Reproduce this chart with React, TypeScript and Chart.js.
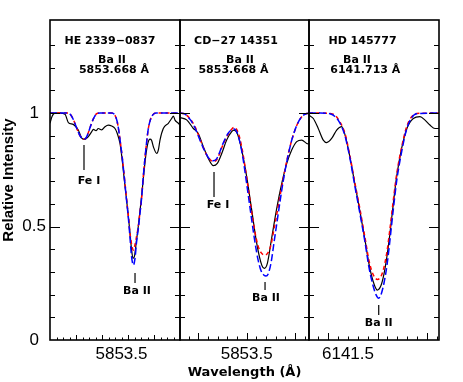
import React, { useEffect, useRef } from "react";
import { Chart, registerables } from "chart.js";
Chart.register(...registerables);

type P = [number, number];

// ---------------- data ----------------
const starNames = ["HE 2339\u22120837", "CD\u221227 14351", "HD 145777"];
const lineIons = ["Ba II", "Ba II", "Ba II"];
const lineWaves = ["5853.668 \u00c5", "5853.668 \u00c5", "6141.713 \u00c5"];

const xMins = [5852.4, 5852.81, 6141.104];
const xMaxs = [5854.4, 5854.145, 6142.424];
const xTickLabels = [5853.5, 5853.5, 6141.5];
const xMajorStarts = [5852.4, 5853.0, 6141.3];
const xMajorSteps = [0.4, 0.5, 0.5];
const xMinorSteps = [0.1, 0.1, 0.1];

const yMin = 0;
const yMax = 1.41;
const yTickLabels = [0, 0.5, 1];

const obs1: P[] = [[5852.400,0.955],[5852.431,0.985],[5852.477,1.0],[5852.554,1.0],[5852.631,0.995],[5852.682,0.958],[5852.758,0.95],[5852.835,0.925],[5852.888,0.89],[5852.938,0.884],[5852.989,0.896],[5853.042,0.918],[5853.066,0.928],[5853.108,0.922],[5853.143,0.932],[5853.195,0.926],[5853.246,0.94],[5853.297,0.947],[5853.349,0.943],[5853.400,0.932],[5853.435,0.91],[5853.477,0.866],[5853.508,0.8],[5853.538,0.72],[5853.569,0.64],[5853.600,0.56],[5853.631,0.47],[5853.654,0.4],[5853.677,0.36],[5853.700,0.37],[5853.731,0.44],[5853.758,0.5],[5853.785,0.57],[5853.815,0.65],[5853.846,0.74],[5853.877,0.82],[5853.908,0.87],[5853.938,0.885],[5853.962,0.88],[5853.992,0.85],[5854.042,0.822],[5854.069,0.84],[5854.092,0.881],[5854.143,0.932],[5854.220,0.955],[5854.272,0.976],[5854.298,0.987],[5854.323,0.969],[5854.374,0.955],[5854.400,0.947]];
const red1: P[] = [[5852.400,1.0],[5852.677,1.0],[5852.723,0.99],[5852.769,0.965],[5852.815,0.93],[5852.862,0.9],[5852.912,0.885],[5852.954,0.89],[5852.985,0.91],[5853.015,0.935],[5853.046,0.96],[5853.077,0.98],[5853.118,0.997],[5853.169,1.0],[5853.354,1.0],[5853.400,0.99],[5853.431,0.965],[5853.454,0.93],[5853.492,0.85],[5853.528,0.763],[5853.554,0.69],[5853.580,0.617],[5853.608,0.54],[5853.631,0.47],[5853.654,0.425],[5853.682,0.396],[5853.708,0.42],[5853.731,0.455],[5853.758,0.5],[5853.785,0.565],[5853.811,0.63],[5853.831,0.705],[5853.854,0.78],[5853.882,0.86],[5853.912,0.93],[5853.946,0.972],[5853.985,0.993],[5854.031,1.0],[5854.400,1.0]];
const blue1: P[] = [[5852.400,1.0],[5852.677,1.0],[5852.723,0.99],[5852.769,0.965],[5852.815,0.93],[5852.862,0.9],[5852.912,0.885],[5852.954,0.89],[5852.985,0.91],[5853.015,0.935],[5853.046,0.96],[5853.077,0.98],[5853.118,0.997],[5853.169,1.0],[5853.354,1.0],[5853.400,0.99],[5853.431,0.965],[5853.454,0.93],[5853.492,0.85],[5853.528,0.76],[5853.554,0.685],[5853.580,0.61],[5853.608,0.53],[5853.631,0.45],[5853.654,0.37],[5853.682,0.33],[5853.708,0.36],[5853.731,0.43],[5853.758,0.49],[5853.785,0.56],[5853.811,0.63],[5853.831,0.705],[5853.854,0.78],[5853.882,0.86],[5853.912,0.93],[5853.946,0.972],[5853.985,0.993],[5854.031,1.0],[5854.400,1.0]];

const obs2: P[] = [[5852.810,0.98],[5852.879,0.97],[5852.948,0.932],[5852.999,0.91],[5853.051,0.852],[5853.103,0.8],[5853.155,0.768],[5853.196,0.778],[5853.242,0.822],[5853.293,0.881],[5853.345,0.918],[5853.369,0.925],[5853.403,0.91],[5853.449,0.837],[5853.500,0.72],[5853.552,0.573],[5853.604,0.426],[5853.656,0.33],[5853.683,0.316],[5853.714,0.338],[5853.759,0.45],[5853.811,0.58],[5853.863,0.69],[5853.915,0.778],[5853.966,0.837],[5854.018,0.874],[5854.070,0.881],[5854.122,0.866],[5854.145,0.864]];
const red2: P[] = [[5852.810,1.0],[5852.862,0.995],[5852.914,0.975],[5852.965,0.94],[5853.017,0.885],[5853.069,0.83],[5853.110,0.8],[5853.152,0.787],[5853.183,0.79],[5853.214,0.815],[5853.245,0.85],[5853.276,0.88],[5853.307,0.905],[5853.338,0.925],[5853.370,0.937],[5853.400,0.925],[5853.431,0.885],[5853.462,0.82],[5853.493,0.735],[5853.524,0.645],[5853.555,0.555],[5853.586,0.475],[5853.617,0.415],[5853.649,0.385],[5853.685,0.374],[5853.721,0.385],[5853.752,0.42],[5853.783,0.49],[5853.814,0.56],[5853.845,0.635],[5853.876,0.705],[5853.915,0.79],[5853.966,0.88],[5854.018,0.945],[5854.070,0.984],[5854.122,0.998],[5854.145,1.0]];
const blue2: P[] = [[5852.810,1.0],[5852.862,0.995],[5852.914,0.972],[5852.965,0.935],[5853.017,0.88],[5853.069,0.83],[5853.110,0.8],[5853.152,0.79],[5853.183,0.795],[5853.214,0.82],[5853.245,0.855],[5853.276,0.885],[5853.307,0.91],[5853.338,0.925],[5853.370,0.93],[5853.400,0.915],[5853.431,0.87],[5853.462,0.8],[5853.493,0.71],[5853.524,0.615],[5853.555,0.52],[5853.586,0.43],[5853.617,0.355],[5853.649,0.305],[5853.680,0.285],[5853.700,0.282],[5853.721,0.29],[5853.752,0.34],[5853.783,0.43],[5853.814,0.52],[5853.845,0.61],[5853.876,0.695],[5853.915,0.785],[5853.966,0.88],[5854.018,0.945],[5854.070,0.984],[5854.122,0.998],[5854.145,1.0]];

const obs3: P[] = [[6141.104,0.99],[6141.148,0.976],[6141.198,0.932],[6141.249,0.881],[6141.284,0.87],[6141.334,0.888],[6141.385,0.925],[6141.436,0.94],[6141.469,0.905],[6141.520,0.805],[6141.571,0.685],[6141.622,0.565],[6141.673,0.44],[6141.713,0.335],[6141.754,0.26],[6141.797,0.22],[6141.835,0.24],[6141.865,0.29],[6141.896,0.37],[6141.926,0.47],[6141.960,0.6],[6141.994,0.72],[6142.045,0.845],[6142.096,0.93],[6142.163,0.976],[6142.231,0.984],[6142.282,0.969],[6142.332,0.947],[6142.383,0.932],[6142.424,0.932]];
const red3: P[] = [[6141.104,1.0],[6141.216,1.0],[6141.317,0.998],[6141.368,0.99],[6141.419,0.96],[6141.469,0.91],[6141.520,0.81],[6141.571,0.69],[6141.622,0.575],[6141.673,0.45],[6141.713,0.35],[6141.754,0.29],[6141.799,0.267],[6141.835,0.28],[6141.865,0.32],[6141.896,0.39],[6141.926,0.49],[6141.960,0.615],[6141.994,0.73],[6142.045,0.85],[6142.096,0.94],[6142.147,0.984],[6142.197,0.998],[6142.424,1.0]];
const blue3: P[] = [[6141.104,1.0],[6141.216,1.0],[6141.317,0.997],[6141.368,0.985],[6141.419,0.955],[6141.469,0.9],[6141.520,0.8],[6141.571,0.675],[6141.622,0.555],[6141.673,0.43],[6141.713,0.32],[6141.754,0.24],[6141.784,0.2],[6141.811,0.184],[6141.835,0.2],[6141.865,0.25],[6141.896,0.33],[6141.926,0.44],[6141.960,0.575],[6141.994,0.7],[6142.045,0.83],[6142.096,0.93],[6142.147,0.98],[6142.197,0.997],[6142.424,1.0]];

const observed = [obs1, obs2, obs3];
const synthRed = [red1, red2, red3];
const synthBlue = [blue1, blue2, blue3];

// line identification markers
const markerPanel = [0, 0, 1, 1, 2];
const markerText = ["Fe I", "Ba II", "Fe I", "Ba II", "Ba II"];
const markerWave = [5852.923, 5853.708, 5853.162, 5853.690, 6141.812];
const markerTop = [0.859, 0.295, 0.740, 0.256, 0.154];
const markerBottom = [0.749, 0.251, 0.630, 0.220, 0.110];
const markerTextY = [0.700, 0.216, 0.595, 0.185, 0.075];

// ---------------- layout (pixels) ----------------
const W = 463;
const H = 382;
const padLeft = [0, 180, 309];
const padRight = [283, 154, 24];
const padTop = 20;
const xAxisHeight = 42;
const yAxisWidth = 50;
const markerDx = [5, 2, 4, 1, 0];
const headerDx = [[60, 62, 64], [56, 60, 53.5], [53.5, 48, 56.3]];
const headerDy = [21, 40, 50];
const BOLD = "'DejaVu Sans', sans-serif";
const SANS = "'Liberation Sans', Arial, sans-serif";

function makeDecor(i: number) {
  return {
    id: "decor" + i,
    afterDatasetsDraw(chart: any) {
      const { ctx, chartArea: a, scales } = chart;
      const xs = scales.x;
      const ys = scales.y;
      ctx.save();
      ctx.strokeStyle = "#000";
      ctx.fillStyle = "#000";
      // y ticks (inward, both sides)
      ctx.lineWidth = 1;
      ctx.beginPath();
      for (let k = 1; k < 14; k++) {
        const v = k / 10;
        const py = Math.round(ys.getPixelForValue(v)) + 0.5;
        const len = k % 5 === 0 ? 10 : 5;
        ctx.moveTo(a.left, py);
        ctx.lineTo(a.left + len, py);
        ctx.moveTo(a.right, py);
        ctx.lineTo(a.right - len, py);
      }
      ctx.stroke();
      // x ticks (inward, bottom)
      const start = xMajorStarts[i];
      const mstep = xMajorSteps[i];
      const step = xMinorSteps[i];
      let v0 = start;
      while (v0 - step >= xMins[i] - 1e-9) v0 -= step;
      const majLen = i === 0 ? 5 : 7;
      const minLen = i === 0 ? 2.5 : 3.5;
      ctx.beginPath();
      for (let v = v0; v <= xMaxs[i] + 1e-9; v += step) {
        const px = Math.round(xs.getPixelForValue(v)) + 0.5;
        if (px < a.left + 1.5 || px > a.right - 1.5) continue;
        const r = (v - start) / mstep;
        const isMajor = Math.abs(r - Math.round(r)) < 1e-3;
        ctx.moveTo(px, a.bottom);
        ctx.lineTo(px, a.bottom - (isMajor ? majLen : minLen));
      }
      ctx.stroke();
      // frame
      ctx.lineWidth = 1.6;
      ctx.strokeRect(a.left, a.top, a.right - a.left, a.bottom - a.top);
      // markers
      ctx.lineWidth = 1.2;
      ctx.font = "bold 11px " + BOLD;
      ctx.textAlign = "center";
      ctx.textBaseline = "middle";
      for (let m = 0; m < markerPanel.length; m++) {
        if (markerPanel[m] !== i) continue;
        const px = xs.getPixelForValue(markerWave[m]);
        ctx.beginPath();
        ctx.moveTo(px, ys.getPixelForValue(markerTop[m]));
        ctx.lineTo(px, ys.getPixelForValue(markerBottom[m]));
        ctx.stroke();
        ctx.fillText(markerText[m], px + markerDx[m], ys.getPixelForValue(markerTextY[m]));
      }
      // header
      const lines = [starNames[i], lineIons[i], lineWaves[i]];
      for (let k = 0; k < 3; k++) {
        ctx.fillText(lines[k], a.left + headerDx[i][k], a.top + headerDy[k]);
      }
      ctx.restore();
    },
  };
}

function makeConfig(i: number): any {
  const ds = (data: P[], color: string, width: number, dash: number[], order: number) => ({
    data: data.map((p) => ({ x: p[0], y: p[1] })),
    borderColor: color,
    borderWidth: width,
    borderDash: dash,
    pointRadius: 0,
    fill: false,
    cubicInterpolationMode: "monotone",
    order,
  });
  return {
    type: "line",
    data: {
      datasets: [
        ds(synthBlue[i], "#0000ff", 1.5, [7, 3], 1),
        ds(synthRed[i], "#ff0000", 1.5, [4, 3], 2),
        ds(observed[i], "#000000", 1.2, [], 3),
      ],
    },
    options: {
      animation: false,
      responsive: false,
      devicePixelRatio: 1,
      events: [],
      layout: { padding: { left: padLeft[i], right: padRight[i], top: padTop, bottom: 0 } },
      plugins: { legend: { display: false }, tooltip: { enabled: false }, title: { display: false } },
      scales: {
        x: {
          type: "linear",
          min: xMins[i],
          max: xMaxs[i],
          grid: { display: false, drawTicks: false },
          border: { display: false },
          afterBuildTicks: (s: any) => {
            s.ticks = [{ value: xTickLabels[i] }];
          },
          afterFit: (s: any) => {
            s.height = xAxisHeight;
          },
          ticks: {
            autoSkip: false,
            maxRotation: 0,
            padding: 4,
            color: "#000",
            font: { family: SANS, size: 17 },
            callback: (v: any) => String(v),
          },
          title: {
            display: i === 1,
            text: "Wavelength (\u00c5)",
            color: "#000",
            font: { family: BOLD, size: 13, weight: "bold" },
            padding: { top: 0, bottom: 2 },
          },
        },
        y: {
          type: "linear",
          display: i === 0,
          min: yMin,
          max: yMax,
          grid: { display: false, drawTicks: false },
          border: { display: false },
          afterBuildTicks: (s: any) => {
            s.ticks = yTickLabels.map((v) => ({ value: v }));
          },
          afterFit: (s: any) => {
            s.width = i === 0 ? yAxisWidth : 0;
          },
          ticks: {
            padding: 4,
            crossAlign: "center",
            color: "#000",
            font: { family: SANS, size: 17 },
            callback: (v: any) => String(v),
          },
          title: {
            display: true,
            text: "Relative Intensity",
            color: "#000",
            font: { family: SANS, size: 15, weight: "bold" },
            padding: { top: 0, bottom: 0 },
          },
        },
      },
    },
    plugins: [makeDecor(i)],
  };
}

export default function App() {
  const r0 = useRef<HTMLCanvasElement>(null);
  const r1 = useRef<HTMLCanvasElement>(null);
  const r2 = useRef<HTMLCanvasElement>(null);
  useEffect(() => {
    const refs = [r0, r1, r2];
    const charts = refs.map((r, i) => new Chart(r.current as HTMLCanvasElement, makeConfig(i)));
    return () => charts.forEach((c) => c.destroy());
  }, []);
  const cs: React.CSSProperties = { position: "absolute", left: 0, top: 0, width: W, height: H };
  return (
    <div style={{ position: "absolute", left: 0, top: 0, width: W, height: H, background: "#fff" }}>
      <canvas ref={r0} width={W} height={H} style={cs} />
      <canvas ref={r1} width={W} height={H} style={cs} />
      <canvas ref={r2} width={W} height={H} style={cs} />
    </div>
  );
}
